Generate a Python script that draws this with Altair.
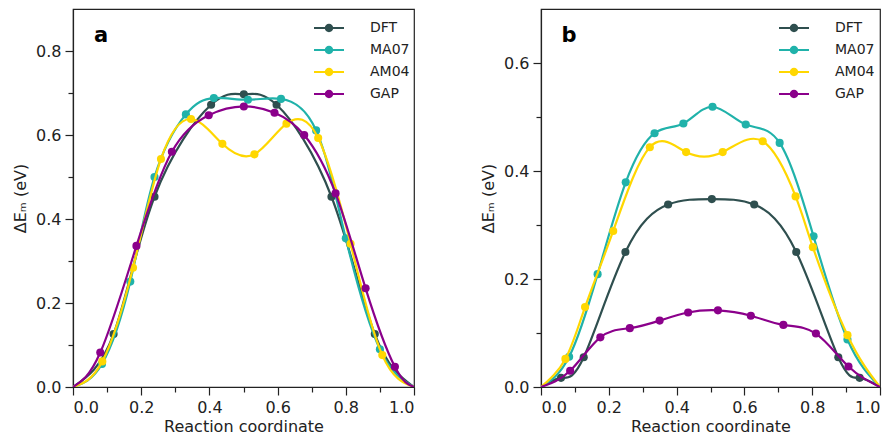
import altair as alt
import pandas as pd

series = ["DFT", "MA07", "AM04", "GAP"]
colors = ["#2f4f4f", "#20b2aa", "#ffd700", "#8b008b"]

# ---- panel a ----
a_dft_x = [0, 0.119, 0.239, 0.405, 0.501, 0.597, 0.758, 0.885, 1]
a_dft_y = [0, 0.126, 0.453, 0.672, 0.697, 0.672, 0.453, 0.126, 0]
a_ma07_x = [0, 0.085, 0.168, 0.239, 0.331, 0.413, 0.513, 0.61, 0.713, 0.80, 0.90, 1]
a_ma07_y = [0, 0.055, 0.251, 0.50, 0.649, 0.688, 0.684, 0.686, 0.611, 0.354, 0.09, 0]
a_am04_x = [0, 0.086, 0.176, 0.258, 0.346, 0.438, 0.532, 0.626, 0.719, 0.814, 0.907, 1]
a_am04_y = [0, 0.061, 0.284, 0.543, 0.638, 0.579, 0.554, 0.627, 0.593, 0.341, 0.076, 0]
a_gap_x = [0, 0.080, 0.186, 0.290, 0.398, 0.501, 0.591, 0.678, 0.770, 0.858, 0.944, 1]
a_gap_y = [0, 0.082, 0.336, 0.560, 0.647, 0.668, 0.653, 0.600, 0.461, 0.235, 0.048, 0]

# ---- panel b ----
b_dft_x = [0, 0.059, 0.126, 0.249, 0.375, 0.504, 0.629, 0.753, 0.877, 0.94, 1]
b_dft_y = [0, 0.017, 0.055, 0.250, 0.338, 0.348, 0.338, 0.250, 0.055, 0.017, 0]
b_ma07_x = [0, 0.083, 0.167, 0.25, 0.335, 0.42, 0.506, 0.604, 0.704, 0.804, 0.904, 1]
b_ma07_y = [0, 0.056, 0.209, 0.379, 0.470, 0.488, 0.519, 0.486, 0.452, 0.279, 0.088, 0]
b_am04_x = [0, 0.072, 0.13, 0.213, 0.321, 0.428, 0.536, 0.654, 0.751, 0.802, 0.904, 1]
b_am04_y = [0, 0.052, 0.148, 0.289, 0.444, 0.435, 0.435, 0.455, 0.353, 0.259, 0.096, 0]
b_gap_x = [0, 0.086, 0.175, 0.262, 0.35, 0.434, 0.522, 0.619, 0.715, 0.811, 0.907, 1]
b_gap_y = [0, 0.030, 0.092, 0.109, 0.123, 0.138, 0.142, 0.132, 0.115, 0.099, 0.038, 0]

x_ticks = [0, 0.1, 0.2, 0.3, 0.4, 0.5, 0.6, 0.7, 0.8, 0.9, 1.0]
a_y_ticks = [0, 0.1, 0.2, 0.3, 0.4, 0.5, 0.6, 0.7, 0.8]
b_y_ticks = [0, 0.1, 0.2, 0.3, 0.4, 0.5, 0.6]

FONT = "DejaVu Sans"
INK = "#222222"

# legend symbol: line segment with a dot in the middle
LEG_PATH = ("M-1,-0.07 L-0.22,-0.07 L-0.22,0.07 L-1,0.07 Z "
            "M0.22,-0.07 L1,-0.07 L1,0.07 L0.22,0.07 Z "
            "M0.28,0 A0.28,0.28 0 1,1 -0.28,0 A0.28,0.28 0 1,1 0.28,0 Z")


def make_df(parts):
    rows = []
    for name, xs, ys in parts:
        for x, y in zip(xs, ys):
            rows.append({"series": name, "x": x, "y": y,
                         "end": (x == 0 or x == 1)})
    return pd.DataFrame(rows)


even = "round(datum.value*10) % 2 === 0"


def panel(df, ymax, yticks, letter, legx, width):
    xenc = alt.X("x:Q", scale=alt.Scale(domain=[0, 1], nice=False),
                 axis=alt.Axis(values=x_ticks, title="Reaction coordinate",
                               labelExpr=f"{even} ? format(datum.value, '.1f') : ''",
                               tickSize={"condition": {"test": even, "value": 8}, "value": 5},
                               labelPadding=4, titlePadding=3))
    yenc = alt.Y("y:Q", scale=alt.Scale(domain=[0, ymax], nice=False),
                 axis=alt.Axis(values=yticks, title="ΔEₘ (eV)",
                               labelExpr=f"{even} ? format(datum.value, '.1f') : ''",
                               tickSize={"condition": {"test": even, "value": 8}, "value": 5},
                               labelPadding=4, titlePadding=7))
    cenc = alt.Color("series:N", sort=series,
                     scale=alt.Scale(domain=series, range=colors),
                     legend=alt.Legend(title=None, orient="none", legendX=legx, legendY=4,
                                       symbolType=LEG_PATH, symbolSize=900,
                                       symbolStrokeWidth=0, symbolOpacity=1,
                                       labelFontSize=14, labelFont=FONT, labelColor=INK,
                                       labelOffset=26, rowPadding=-8, padding=0))
    base = alt.Chart(df)
    layers = []
    for s in series:
        line = base.transform_filter(alt.datum.series == s).mark_line(
            interpolate="natural", strokeWidth=2.2, clip=True
        ).encode(x=xenc, y=yenc, color=cenc)
        pts = base.transform_filter(
            (alt.datum.series == s) & (alt.datum.end == False)
        ).mark_circle(size=66, opacity=1).encode(x=xenc, y=yenc, color=cenc)
        layers += [line, pts]
    lab = alt.Chart(pd.DataFrame({"t": [letter]})).mark_text(
        fontSize=21, fontWeight="bold", font=FONT, color="black",
        align="center", baseline="middle"
    ).encode(text="t:N", x=alt.value(28), y=alt.value(27))
    layers.append(lab)
    return alt.layer(*layers).properties(width=width, height=378)


df_a = make_df([("DFT", a_dft_x, a_dft_y), ("MA07", a_ma07_x, a_ma07_y),
                ("AM04", a_am04_x, a_am04_y), ("GAP", a_gap_x, a_gap_y)])
df_b = make_df([("DFT", b_dft_x, b_dft_y), ("MA07", b_ma07_x, b_ma07_y),
                ("AM04", b_am04_x, b_am04_y), ("GAP", b_gap_x, b_gap_y)])

pa = panel(df_a, 0.9, a_y_ticks, "a", 241, 341)
pb = panel(df_b, 0.7, b_y_ticks, "b", 238, 339)

chart = alt.hconcat(pa, pb, spacing=127, bounds="flush").resolve_scale(
    y="independent", color="independent"
).resolve_legend(color="independent").properties(
    padding={"left": 3, "top": 0, "right": 0, "bottom": 0}
).configure_axis(
    labelFont=FONT, titleFont=FONT, labelFontSize=16, titleFontSize=16,
    labelColor=INK, titleColor=INK, tickColor=INK, domainColor=INK,
    domainWidth=1.2, tickWidth=1.2, grid=False, titleFontWeight="normal"
).configure_view(stroke=INK, strokeWidth=1.2)

chart.save("out.html", embed_options={"renderer": "svg", "actions": False})
